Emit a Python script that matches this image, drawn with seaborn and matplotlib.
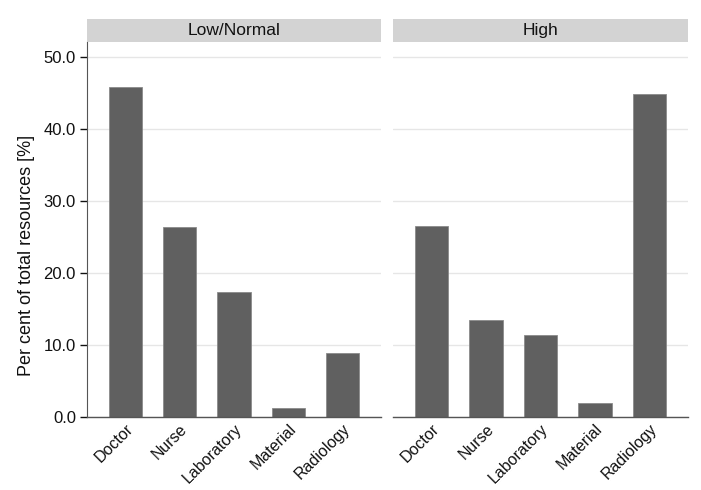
import pandas as pd
import seaborn as sns
import matplotlib.pyplot as plt
from matplotlib.patches import Rectangle

categories = ['Doctor', 'Nurse', 'Laboratory', 'Material', 'Radiology']
panels = ['Low/Normal', 'High']
low_normal = [45.8, 26.4, 17.3, 1.3, 8.9]
high = [26.5, 13.5, 11.4, 1.9, 44.9]
yticks = [0, 10, 20, 30, 40, 50]

df = pd.DataFrame({
    'category': categories * 2,
    'panel': [panels[0]] * 5 + [panels[1]] * 5,
    'value': low_normal + high,
})

sns.set_style('white')
plt.rcParams['font.family'] = ['Liberation Sans', 'DejaVu Sans']

fig = plt.figure(figsize=(7.01, 4.90), dpi=100)
ax1 = fig.add_axes([87 / 701, 73 / 490, 294 / 701, 375 / 490])
ax2 = fig.add_axes([393 / 701, 73 / 490, 295 / 701, 375 / 490])

for ax, name in zip([ax1, ax2], panels):
    sub = df[df['panel'] == name]
    sns.barplot(data=sub, x='category', y='value', order=categories,
                color='#606060', saturation=1, width=0.61,
                edgecolor='#8a8a8a', linewidth=0.6, ax=ax)
    ax.set_xlim(-0.71, 4.71)
    ax.set_ylim(0, 52.1)
    ax.set_yticks(yticks)
    ax.yaxis.grid(True, color='#e6e6e6', linewidth=1)
    ax.set_axisbelow(True)
    ax.set_xlabel('')
    ax.set_ylabel('')
    for s in ['top', 'right', 'left']:
        ax.spines[s].set_visible(False)
    ax.spines['bottom'].set_color('#555555')
    ax.spines['bottom'].set_linewidth(1)
    ax.tick_params(axis='x', length=0, pad=3, labelsize=11.5, colors='#111111')
    plt.setp(ax.get_xticklabels(), rotation=45, ha='right', rotation_mode='anchor')
    # header strip
    ax.add_patch(Rectangle((0, 1.0), 1, 23 / 375, transform=ax.transAxes,
                           clip_on=False, facecolor='#d3d3d3', edgecolor='none'))
    ax.text(0.5, 1.0 + 11.5 / 375, name, transform=ax.transAxes,
            ha='center', va='center', fontsize=12.5, color='#111111')

ax1.spines['left'].set_visible(True)
ax1.spines['left'].set_color('#555555')
ax1.set_yticks(yticks, [f'{v:.1f}' for v in yticks])
ax1.tick_params(axis='y', left=True, length=5, width=1, color='#555555',
                labelsize=12, colors='#111111', pad=3)
ax1.tick_params(axis='y', colors='#111111')
ax1.set_ylabel('Per cent of total resources [%]', fontsize=13, color='#111111')
ax1.yaxis.set_label_coords(-0.178, 0.43)
ax2.tick_params(axis='y', left=False, labelleft=False)

fig.savefig('out.png', dpi=100)
